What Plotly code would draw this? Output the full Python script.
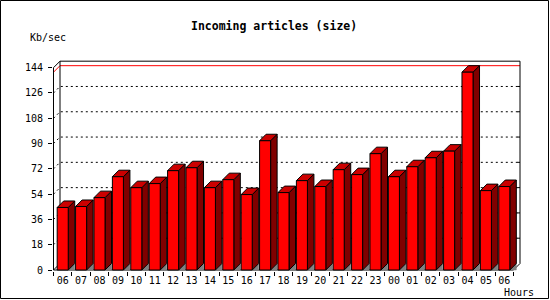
import plotly.graph_objects as go

# ---------------- data ----------------
hours = ["06", "07", "08", "09", "10", "11", "12", "13", "14", "15", "16", "17", "18",
         "19", "20", "21", "22", "23", "00", "01", "02", "03", "04", "05", "06"]
kbsec = [44.5, 45.2, 51.5, 66.4, 58.6, 61.5, 70.7, 72.8, 58.6, 64.3, 53.7, 92.0, 55.1,
         63.6, 59.4, 71.4, 67.9, 82.8, 66.4, 73.5, 79.9, 84.6, 140.8, 56.5, 59.4]
y_ticks = [0, 18, 36, 54, 72, 90, 108, 126, 144]

# ---------------- style ----------------
W, H = 550, 300
ML, MR, MT, MB = 53, 29, 60, 29
PX_X = 18.4           # px per category
PX_Y = 1.405          # px per unit
DEPTH_PX = 6.5
dx = DEPTH_PX / PX_X
dy = DEPTH_PX / PX_Y
half = 0.3            # half width of front face
n = len(hours)
ymax = y_ticks[-1]

pw = W - ML - MR
ph = H - MT - MB
x0 = -0.5 - 0.5 / PX_X
xr = [x0, x0 + pw / PX_X]
y0 = -1.0 / PX_Y
yr = [y0, y0 + ph / PX_Y]

FRONT = "#FF0000"
SIDE = "#800000"
TOP = "#CC0000"
FLOOR = "#808080"
MONO = "DejaVu Sans Mono"

def px2paper_x(px):
    return (px - ML) / pw

def px2paper_y(py):
    return (H - MB - py) / ph

fig = go.Figure()

L = -0.5
R = n - 0.5

# back grid (dotted) incl. left wall diagonals
gx, gy = [], []
for v in y_ticks[1:-1]:
    gx += [L, L + dx, R + dx, None]
    gy += [v, v + dy, v + dy, None]
fig.add_trace(go.Scatter(x=gx, y=gy, mode="lines", hoverinfo="skip",
                         line=dict(color="black", width=1, dash="2px,3px")))

# right wall small ticks
tx, ty = [], []
for v in y_ticks[1:-1]:
    tx += [R + dx - 0.14, R + dx, None]
    ty += [v + dy, v + dy, None]
fig.add_trace(go.Scatter(x=tx, y=ty, mode="lines", hoverinfo="skip",
                         line=dict(color="black", width=1)))

# max line (red)
vmax = max(kbsec)
fig.add_trace(go.Scatter(x=[L, L + dx, R + dx], y=[vmax, vmax + dy, vmax + dy],
                         mode="lines", hoverinfo="skip",
                         line=dict(color="red", width=1)))

# frame
fig.add_trace(go.Scatter(
    x=[L, L, L + dx, R + dx, R + dx, R, L, None, L, L + dx, L + dx],
    y=[0, ymax, ymax + dy, ymax + dy, dy, 0, 0, None, 0, dy, ymax + dy],
    mode="lines", hoverinfo="skip", line=dict(color="black", width=1)))

# bars
fx, fy, sx, sy, tpx, tpy, flx, fly = [], [], [], [], [], [], [], []
for i, v in enumerate(kbsec):
    a, b = i - half, i + half
    fx += [a, b, b, a, a, None]
    fy += [0, 0, v, v, 0, None]
    sx += [b, b + dx, b + dx, b, b, None]
    sy += [0, dy, v + dy, v, 0, None]
    tpx += [a, a + dx, b + dx, b, a, None]
    tpy += [v, v + dy, v + dy, v, v, None]
    flx += [b, b + dx, b + dx, b, None]
    fly += [0, 0, dy, 0, None]

fig.add_trace(go.Scatter(x=flx, y=fly, mode="lines", fill="toself", fillcolor=FLOOR,
                         hoverinfo="skip", line=dict(color=FLOOR, width=0.5)))
fig.add_trace(go.Scatter(x=sx, y=sy, mode="lines", fill="toself", fillcolor=SIDE,
                         hoverinfo="skip", line=dict(color="black", width=1)))
fig.add_trace(go.Scatter(x=tpx, y=tpy, mode="lines", fill="toself", fillcolor=TOP,
                         hoverinfo="skip", line=dict(color="black", width=1)))
fig.add_trace(go.Scatter(x=fx, y=fy, mode="lines", fill="toself", fillcolor=FRONT,
                         hoverinfo="skip", line=dict(color="black", width=1)))

# invisible trace for boundary-tick axis
fig.add_trace(go.Scatter(x=[0], y=[0], xaxis="x2", mode="markers",
                         marker=dict(opacity=0), hoverinfo="skip"))

fig.update_layout(
    width=W, height=H,
    margin=dict(l=ML, r=MR, t=MT, b=MB, pad=0),
    paper_bgcolor="white", plot_bgcolor="white",
    showlegend=False,
    xaxis=dict(range=xr, tickvals=list(range(n)), ticktext=hours,
               showgrid=False, zeroline=False, showline=False, ticks="",
               tickfont=dict(family=MONO, size=10, color="black"),
               ticklabelstandoff=2, fixedrange=True),
    xaxis2=dict(range=xr, overlaying="x", side="bottom", anchor="y",
                tickvals=[k - 0.5 for k in range(n + 1)], ticks="outside",
                ticklen=4, tickcolor="black", tickwidth=1, showticklabels=False,
                showgrid=False, zeroline=False, showline=False, fixedrange=True),
    yaxis=dict(range=yr, tickvals=y_ticks, ticks="outside", ticklen=4,
               tickcolor="black", showgrid=False, zeroline=False, showline=False,
               tickfont=dict(family=MONO, size=10, color="black"),
               ticklabelstandoff=3, fixedrange=True),
    annotations=[
        dict(text="<b>Incoming articles (size)</b>", xref="paper", yref="paper",
             x=px2paper_x(274), y=px2paper_y(26.5), xanchor="center", yanchor="middle",
             showarrow=False, font=dict(family=MONO, size=11.5, color="black")),
        dict(text="Kb/sec", xref="paper", yref="paper",
             x=px2paper_x(47.5), y=px2paper_y(37), xanchor="center", yanchor="middle",
             showarrow=False, font=dict(family=MONO, size=10, color="black")),
        dict(text="Hours", xref="paper", yref="paper",
             x=px2paper_x(519), y=px2paper_y(292.5), xanchor="center", yanchor="middle",
             showarrow=False, font=dict(family=MONO, size=10, color="black")),
    ],
    shapes=[
        dict(type="rect", xref="paper", yref="paper",
             x0=px2paper_x(0.5), x1=px2paper_x(548.5),
             y0=px2paper_y(0.5), y1=px2paper_y(298.5),
             line=dict(color="black", width=1), fillcolor="rgba(0,0,0,0)", layer="above"),
    ],
)

fig.write_html("out.html")
